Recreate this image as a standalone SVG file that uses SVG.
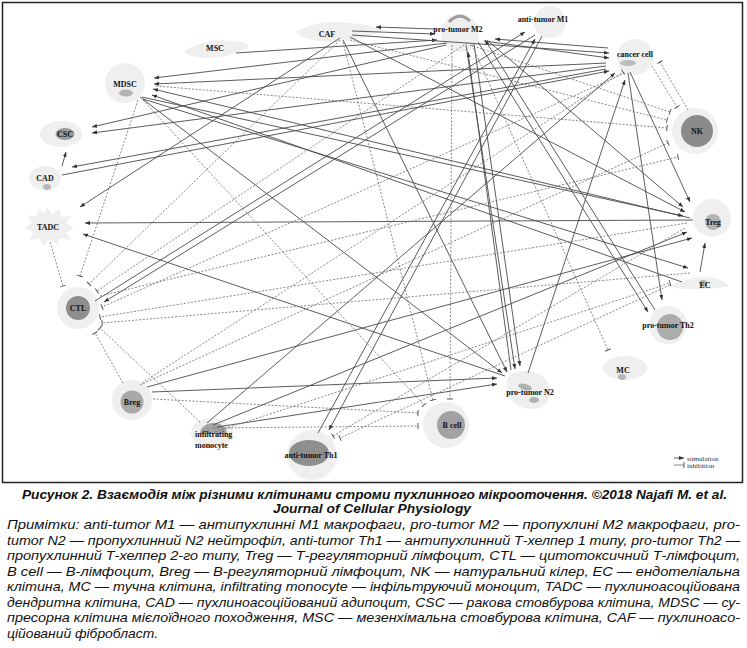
<svg xmlns="http://www.w3.org/2000/svg" width="747" height="648" viewBox="0 0 747 648">
<style>
.s{stroke:#4a4a4a;stroke-width:0.9;fill:none;marker-end:url(#arr)}
.d{stroke:#6a6a6a;stroke-width:0.8;stroke-dasharray:2 1.6;fill:none;marker-end:url(#bar)}
.halo{fill:#efefef}
.core{fill:#a9a9a9}
.dark{fill:#8e8e8e}
.lb{font-family:"Liberation Serif",serif;font-weight:bold;font-size:8px;fill:#111;text-anchor:middle}
.cap{font-family:"Liberation Sans Narrow","Liberation Sans",Arial,sans-serif;font-style:italic;font-size:13.5px;fill:#111}
</style>
<defs>
<marker id="arr" viewBox="0 0 6 6" refX="6" refY="3" markerWidth="5" markerHeight="5" orient="auto" markerUnits="userSpaceOnUse"><path d="M0,0.6 L6,3 L0,5.4z" fill="#333"/></marker>
<marker id="bar" viewBox="0 0 2 8" refX="1" refY="4" markerWidth="1.6" markerHeight="6" orient="auto" markerUnits="userSpaceOnUse"><path d="M1,0 V8" stroke="#555" stroke-width="1.3"/></marker>
</defs>
<rect width="747" height="648" fill="#fff"/>
<rect x="2.5" y="2.5" width="740" height="480" fill="none" stroke="#222" stroke-width="1.5"/>

<g id="node-CAF"><path class="halo" d="M296,32 Q318,19 350,23 Q374,25 382,30 Q362,41 330,42 Q304,41 296,32z"/><text class="lb" x="327" y="37">CAF</text></g>
<g id="node-MSC"><path class="halo" d="M184,51 Q204,38 234,41 Q252,43 247,48 Q230,58 205,58 Q187,57 184,51z"/><text class="lb" x="215" y="51">MSC</text></g>
<g id="node-MDSC"><circle class="halo" cx="125" cy="83" r="20"/><ellipse cx="126" cy="93" rx="7" ry="3.5" fill="#b3b3b3"/><text class="lb" x="125" y="87">MDSC</text></g>
<g id="node-CSC"><ellipse class="halo" cx="61" cy="134" rx="21" ry="13"/><ellipse cx="65" cy="134" rx="9.5" ry="6" fill="#9a9a9a"/><text class="lb" x="65" y="137">CSC</text></g>
<g id="node-CAD"><ellipse class="halo" cx="45" cy="178" rx="16" ry="12"/><ellipse cx="47" cy="187" rx="4" ry="3" fill="#b8b8b8"/><text class="lb" x="45" y="181">CAD</text></g>
<g id="node-TADC"><path class="halo" d="M47,207 L52,214 L60,209 L61,217 L71,216 L66,223 L74,228 L66,232 L70,240 L60,238 L57,245 L50,239 L43,246 L40,238 L30,240 L33,232 L24,228 L32,223 L27,215 L37,217 L38,209 L44,214z"/><text class="lb" x="48" y="230">TADC</text></g>
<g id="node-CTL"><circle class="halo" cx="78" cy="308" r="21"/><circle class="dark" cx="78" cy="308" r="12"/><text class="lb" x="78" y="311">CTL</text></g>
<g id="node-Breg"><circle class="halo" cx="132" cy="400" r="20"/><circle class="core" cx="132" cy="402" r="11.5"/><text class="lb" x="132" y="405">Breg</text></g>
<g id="node-monocyte"><ellipse class="halo" cx="212" cy="433" rx="21" ry="15"/><path d="M200,434 A13.5,11 0 0 1 227,434 Z" fill="#a3a3a3"/><text class="lb" x="195" y="437" text-anchor="start" style="text-anchor:start">infiltrating</text><text class="lb" x="195" y="448" style="text-anchor:start">monocyte</text></g>
<g id="node-Th1"><circle class="halo" cx="312" cy="455" r="25"/><ellipse class="dark" cx="309" cy="453" rx="20" ry="13"/><text class="lb" x="311" y="458">anti-tumor Th1</text></g>
<g id="node-Bcell"><circle class="halo" cx="446" cy="425" r="23"/><circle cx="451" cy="425" r="14" fill="#a2a2a2"/><text class="lb" x="452" y="428">B cell</text></g>
<g id="node-N2"><path class="halo" d="M508,378 Q512,370 528,371 Q548,374 550,390 Q551,405 535,409 Q518,410 510,398 Q504,388 508,378z"/><ellipse cx="525" cy="387" rx="7" ry="3" fill="#b0b0b0" transform="rotate(15 525 387)"/><ellipse cx="534" cy="400" rx="5" ry="3" fill="#b0b0b0"/><text class="lb" x="530" y="395">pro-tumor N2</text></g>
<g id="node-MC"><ellipse class="halo" cx="625" cy="368" rx="22" ry="12"/><ellipse cx="622" cy="377" rx="4" ry="3" fill="#b5b5b5"/><text class="lb" x="623" y="373">MC</text></g>
<g id="node-Th2"><circle class="halo" cx="668" cy="325" r="19"/><circle cx="670" cy="327" r="13" fill="#acacac"/><text class="lb" x="668" y="328">pro-tumor Th2</text></g>
<g id="node-EC"><path class="halo" d="M668,286 Q690,277 706,277 Q722,278 729,286 Q712,290 690,289 Q676,289 668,286z"/><ellipse cx="703" cy="283" rx="4" ry="3" fill="#b5b5b5"/><text class="lb" x="705" y="288">EC</text></g>
<g id="node-Treg"><circle class="halo" cx="712" cy="218" r="19"/><circle cx="713" cy="222" r="8" fill="#b3b3b3"/><text class="lb" x="713" y="225">Treg</text></g>
<g id="node-NK"><circle class="halo" cx="695" cy="131" r="23"/><circle cx="697" cy="131" r="16" fill="#8a8a8a"/><text class="lb" x="697" y="134">NK</text></g>
<g id="node-cancer"><circle class="halo" cx="635" cy="57" r="18"/><ellipse cx="628" cy="63" rx="8" ry="3" fill="#bdbdbd"/><text class="lb" x="635" y="57">cancer cell</text></g>
<g id="node-M1"><circle class="halo" cx="550" cy="22" r="16"/><text class="lb" x="543" y="22">anti-tumor M1</text></g>
<g id="node-M2"><circle class="halo" cx="460" cy="33" r="19"/><path d="M449,22 Q459,11 470,21" stroke="#9c9c9c" stroke-width="3" fill="none"/><text class="lb" x="458" y="32">pro-tumor M2</text></g>

<g id="connectors">
<path class="s" d="M352,31 L435,34"/>
<path class="s" d="M436,29 L376,27"/>
<path class="s" d="M236,53 L437,40"/>
<path class="s" d="M340,38 L80,207"/>
<path class="s" d="M350,37 L685,212"/>
<path class="s" d="M343,40 L507,372"/>
<path class="s" d="M352,35 L609,53"/>
<path class="s" d="M484,41 L609,58"/>
<path class="s" d="M608,48 L495,39"/>
<path class="s" d="M447,43 L154,78"/>
<path class="s" d="M606,63 L154,84"/>
<path class="s" d="M690,218 L153,89"/>
<path class="s" d="M682,282 L152,95"/>
<path class="s" d="M140,97 L502,373"/>
<path class="s" d="M142,97 L683,216"/>
<path class="s" d="M143,99 L688,268"/>
<path class="s" d="M446,45 L92,127"/>
<path class="s" d="M606,66 L92,133"/>
<path class="s" d="M606,69 L72,167"/>
<path class="s" d="M62,175 L609,71"/>
<path class="s" d="M62,166 L66,152"/>
<path class="s" d="M693,220 L85,223"/>
<path class="s" d="M505,376 L83,234"/>
<path class="s" d="M95,301 L525,32"/>
<path class="s" d="M535,35 L104,302"/>
<path class="s" d="M318,433 L535,39"/>
<path class="s" d="M542,36 L329,430"/>
<path class="s" d="M147,387 L692,238"/>
<path class="s" d="M152,392 L497,378"/>
<path class="s" d="M207,423 L615,73"/>
<path class="s" d="M213,425 L687,232"/>
<path class="s" d="M217,427 L497,384"/>
<path class="s" d="M528,373 L625,80"/>
<path class="s" d="M466,45 L515,369"/>
<path class="s" d="M474,44 L520,366"/>
<path class="s" d="M511,370 L468,52"/>
<path class="s" d="M478,42 L648,312"/>
<path class="s" d="M655,310 L485,40"/>
<path class="s" d="M628,73 L662,300"/>
<path class="s" d="M630,72 L690,202"/>
<path class="s" d="M487,40 L683,207"/>
<path class="s" d="M700,272 L705,243"/>
<path class="d" d="M156,86 L667,128"/>
<path class="d" d="M138,100 L80,276"/>
<path class="d" d="M143,100 L424,405"/>
<path class="d" d="M340,40 L89,284"/>
<path class="d" d="M343,42 L433,400"/>
<path class="d" d="M350,40 L667,120"/>
<path class="d" d="M467,43 L97,291"/>
<path class="d" d="M452,45 L450,399"/>
<path class="d" d="M470,45 L670,112"/>
<path class="d" d="M472,45 L608,350"/>
<path class="d" d="M50,242 L63,286"/>
<path class="d" d="M625,73 L102,307"/>
<path class="d" d="M687,223 L100,317"/>
<path class="d" d="M690,273 L102,323"/>
<path class="d" d="M123,383 L95,333"/>
<path class="d" d="M200,422 L100,328"/>
<path class="d" d="M140,385 L668,143"/>
<path class="d" d="M100,296 L678,157"/>
<path class="d" d="M153,399 L418,413"/>
<path class="d" d="M213,428 L418,426"/>
<path class="d" d="M670,285 L340,438"/>
<path class="d" d="M652,66 L677,107"/>
<path class="d" d="M688,110 L660,62"/>
<path class="d" d="M142,383 L623,72"/>
<path class="d" d="M215,432 L670,283"/>
<path class="d" d="M685,228 L333,436"/>
</g>

<g id="legend">
<path class="s" d="M674,458 L684,458"/>
<path class="d" d="M674,465 L684,465" style="stroke-dasharray:none"/>
<text x="687" y="460.5" style="font-family:'Liberation Serif',serif;font-size:7px;fill:#333">stimulation</text>
<text x="687" y="467.5" style="font-family:'Liberation Serif',serif;font-size:7px;fill:#333">inhibition</text>
</g>

<g id="caption">
<text class="cap" x="22" y="499" textLength="705" lengthAdjust="spacingAndGlyphs" style="font-weight:bold;font-size:13px">Рисунок 2. Взаємодія між різними клітинами строми пухлинного мікрооточення. ©2018 Najafi M. et al.</text>
<text class="cap" x="273" y="512.5" textLength="198" lengthAdjust="spacingAndGlyphs" style="font-weight:bold;font-size:13px">Journal of Cellular Physiology</text>
<text class="cap" x="7" y="529" textLength="733" lengthAdjust="spacingAndGlyphs">Примітки: anti-tumor M1 — антипухлинні M1 макрофаги, pro-tumor M2 — пропухлині M2 макрофаги, pro-</text>
<text class="cap" x="7" y="544.5" textLength="733" lengthAdjust="spacingAndGlyphs">tumor N2 — пропухлинний N2 нейтрофіл, anti-tumor Th1 — антипухлинний Т-хелпер 1 типу, pro-tumor Th2 —</text>
<text class="cap" x="7" y="560" textLength="733" lengthAdjust="spacingAndGlyphs">пропухлинний Т-хелпер 2-го типу, Treg — Т-регуляторний лімфоцит, CTL — цитотоксичний Т-лімфоцит,</text>
<text class="cap" x="7" y="575.5" textLength="733" lengthAdjust="spacingAndGlyphs">B cell — B-лімфоцит, Breg — B-регуляторний лімфоцит, NK — натуральний кілер, EC — ендотеліальна</text>
<text class="cap" x="7" y="591" textLength="733" lengthAdjust="spacingAndGlyphs">клітина, MC — тучна клітина, infiltrating monocyte — інфільтруючий моноцит, TADC — пухлиноасоційована</text>
<text class="cap" x="7" y="606.5" textLength="733" lengthAdjust="spacingAndGlyphs">дендритна клітина, CAD — пухлиноасоційований адипоцит, CSC — ракова стовбурова клітина, MDSC — су-</text>
<text class="cap" x="7" y="622" textLength="733" lengthAdjust="spacingAndGlyphs">пресорна клітина мієлоїдного походження, MSC — мезенхімальна стовбурова клітина, CAF — пухлиноасо-</text>
<text class="cap" x="7" y="637.5" textLength="151" lengthAdjust="spacingAndGlyphs">ційований фібробласт.</text>
</g>
</svg>
